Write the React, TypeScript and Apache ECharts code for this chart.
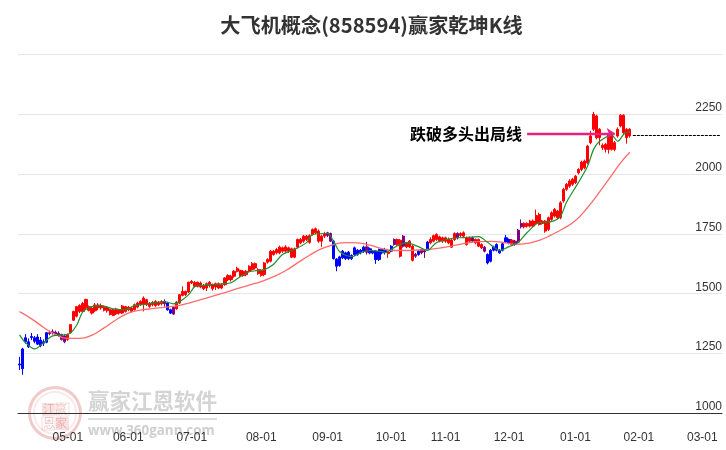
import React, { useEffect, useRef } from 'react';
import * as echarts from 'echarts';

// one trading-day slot per category, grouped by month
const monthLabels = ['', '05-01', '06-01', '07-01', '08-01', '09-01', '10-01', '11-01', '12-01', '01-01', '02-01', '03-01'];
const monthLengths = [16, 20, 21, 23, 22, 21, 18, 21, 22, 21, 21, 7];
const yTicks = [1000, 1250, 1500, 1750, 2000, 2250];

// open, close, low, high
const candles = [
  [1205, 1201, 1180, 1235], [1268, 1185, 1160, 1273], [1315, 1298, 1290, 1330], [1298, 1277, 1272, 1312],
  [1320, 1316, 1305, 1335], [1315, 1300, 1292, 1322], [1318, 1288, 1285, 1330], [1305, 1282, 1275, 1318],
  [1298, 1292, 1280, 1308], [1336, 1296, 1292, 1338], [1336, 1332, 1325, 1345], [1340, 1335, 1328, 1350],
  [1338, 1330, 1322, 1345], [1334, 1326, 1318, 1342], [1328, 1308, 1303, 1332], [1322, 1298, 1292, 1330],
  [1308, 1328, 1302, 1332], [1336, 1370, 1333, 1372], [1388, 1425, 1385, 1428], [1405, 1445, 1400, 1448],
  [1425, 1450, 1418, 1455], [1425, 1458, 1420, 1465], [1440, 1475, 1435, 1478], [1430, 1445, 1425, 1450],
  [1418, 1438, 1412, 1445], [1428, 1452, 1422, 1460], [1440, 1452, 1430, 1460], [1440, 1450, 1432, 1458],
  [1430, 1442, 1425, 1450], [1428, 1442, 1420, 1448], [1412, 1432, 1408, 1436], [1408, 1432, 1405, 1436],
  [1415, 1435, 1410, 1440], [1418, 1432, 1412, 1436], [1418, 1448, 1414, 1452], [1425, 1445, 1420, 1448],
  [1432, 1443, 1426, 1448], [1425, 1439, 1420, 1444], [1432, 1453, 1428, 1458], [1443, 1460, 1438, 1466],
  [1453, 1467, 1448, 1472], [1453, 1481, 1425, 1488], [1453, 1474, 1448, 1478], [1446, 1460, 1440, 1464],
  [1453, 1463, 1446, 1468], [1450, 1467, 1444, 1472], [1453, 1463, 1448, 1468], [1457, 1467, 1450, 1472],
  [1457, 1467, 1445, 1476], [1460, 1432, 1428, 1464], [1432, 1418, 1414, 1436], [1442, 1414, 1410, 1446],
  [1436, 1464, 1432, 1468], [1460, 1495, 1456, 1498], [1492, 1509, 1488, 1530], [1495, 1509, 1490, 1512],
  [1506, 1547, 1502, 1550], [1544, 1551, 1540, 1556], [1530, 1547, 1525, 1552], [1530, 1547, 1525, 1550],
  [1527, 1544, 1522, 1550], [1520, 1534, 1514, 1540], [1523, 1541, 1510, 1546], [1533, 1547, 1525, 1552],
  [1520, 1537, 1512, 1542], [1527, 1541, 1515, 1546], [1523, 1541, 1518, 1546], [1523, 1537, 1518, 1544],
  [1537, 1565, 1532, 1568], [1558, 1575, 1552, 1580], [1558, 1572, 1550, 1578], [1572, 1593, 1566, 1598],
  [1593, 1605, 1588, 1612], [1575, 1597, 1570, 1600], [1575, 1593, 1570, 1598], [1579, 1593, 1572, 1598],
  [1593, 1614, 1588, 1618], [1600, 1625, 1595, 1632], [1607, 1625, 1600, 1630], [1583, 1600, 1578, 1606],
  [1576, 1596, 1570, 1602], [1579, 1628, 1572, 1632], [1631, 1642, 1625, 1648], [1635, 1677, 1630, 1682],
  [1663, 1677, 1658, 1682], [1670, 1684, 1664, 1690], [1670, 1694, 1664, 1700], [1677, 1691, 1670, 1696],
  [1677, 1695, 1670, 1702], [1677, 1691, 1670, 1696], [1652, 1687, 1648, 1692], [1652, 1687, 1648, 1692],
  [1694, 1726, 1688, 1730], [1712, 1726, 1706, 1732], [1719, 1740, 1712, 1745], [1726, 1740, 1720, 1745],
  [1714, 1742, 1708, 1748], [1747, 1768, 1742, 1772], [1754, 1771, 1748, 1776], [1719, 1761, 1712, 1768],
  [1719, 1740, 1695, 1745], [1740, 1751, 1732, 1758], [1743, 1754, 1736, 1758], [1751, 1719, 1715, 1755],
  [1719, 1646, 1642, 1724], [1644, 1614, 1593, 1648], [1653, 1617, 1612, 1658], [1677, 1649, 1644, 1682],
  [1670, 1646, 1640, 1675], [1673, 1646, 1640, 1678], [1659, 1646, 1640, 1664], [1691, 1663, 1658, 1696],
  [1681, 1663, 1658, 1686], [1681, 1670, 1664, 1686], [1694, 1677, 1670, 1700], [1695, 1673, 1663, 1716],
  [1687, 1670, 1664, 1692], [1677, 1670, 1664, 1682], [1677, 1642, 1624, 1682], [1684, 1642, 1636, 1688],
  [1684, 1670, 1664, 1688], [1672, 1680, 1663, 1691], [1673, 1667, 1649, 1680], [1677, 1698, 1672, 1702],
  [1705, 1726, 1700, 1730], [1705, 1726, 1700, 1730], [1723, 1656, 1650, 1728], [1698, 1740, 1692, 1745],
  [1695, 1712, 1690, 1716], [1695, 1719, 1690, 1724], [1698, 1639, 1634, 1702], [1663, 1656, 1649, 1670],
  [1663, 1677, 1658, 1682], [1670, 1684, 1664, 1688], [1681, 1674, 1649, 1684], [1687, 1715, 1682, 1720],
  [1712, 1726, 1706, 1735], [1719, 1742, 1714, 1746], [1726, 1747, 1720, 1752], [1719, 1737, 1714, 1742],
  [1719, 1733, 1712, 1738], [1719, 1733, 1712, 1738], [1712, 1728, 1706, 1734], [1724, 1694, 1690, 1728],
  [1726, 1751, 1720, 1756], [1733, 1751, 1726, 1756], [1743, 1751, 1736, 1756], [1740, 1754, 1732, 1760],
  [1733, 1705, 1700, 1738], [1719, 1733, 1714, 1738], [1719, 1733, 1714, 1738], [1712, 1726, 1706, 1730],
  [1726, 1698, 1694, 1730], [1705, 1691, 1686, 1710], [1694, 1677, 1672, 1698], [1663, 1628, 1622, 1668],
  [1681, 1635, 1630, 1686], [1695, 1681, 1676, 1700], [1705, 1681, 1676, 1710], [1681, 1670, 1666, 1686],
  [1708, 1681, 1676, 1712], [1716, 1733, 1712, 1745], [1726, 1712, 1706, 1730], [1723, 1705, 1700, 1728],
  [1719, 1705, 1700, 1724], [1715, 1765, 1710, 1770], [1779, 1793, 1772, 1810], [1779, 1793, 1772, 1798],
  [1782, 1793, 1776, 1798], [1782, 1803, 1776, 1808], [1782, 1803, 1776, 1810], [1793, 1826, 1788, 1851],
  [1789, 1831, 1784, 1838], [1793, 1803, 1788, 1808], [1761, 1803, 1754, 1808], [1768, 1817, 1762, 1822],
  [1810, 1838, 1804, 1844], [1824, 1852, 1818, 1858], [1817, 1845, 1810, 1850], [1817, 1880, 1810, 1886],
  [1887, 1936, 1880, 1942], [1936, 1957, 1930, 1962], [1949, 1971, 1942, 1978], [1957, 1978, 1950, 1984],
  [1964, 1991, 1958, 1996], [2005, 2019, 1998, 2024], [2019, 2050, 2012, 2056], [2026, 2054, 2020, 2060],
  [2047, 2117, 2040, 2122], [2131, 2159, 2125, 2180], [2187, 2250, 2180, 2260], [2152, 2243, 2145, 2248],
  [2152, 2187, 2120, 2192], [2110, 2120, 2100, 2128], [2103, 2124, 2090, 2130], [2103, 2166, 2085, 2172],
  [2103, 2166, 2098, 2172], [2103, 2131, 2095, 2138], [2159, 2187, 2152, 2195], [2201, 2246, 2195, 2250],
  [2173, 2246, 2166, 2250], [2152, 2187, 2127, 2192], [2159, 2187, 2152, 2192],
];
// r: long trend, b: short trend, p: turning
const trendColors =
  'bbbbbbbbbbpppppp' +
  'rrrrrrrrrrrrrrrrrrrrrrrrrrrrrrrr' +
  'pbbp' +
  'rrrrrrrrrrrrrrrrrrrrrrrrrrrrrrrrrrrrrrrrrrrrrrrrrr' +
  'pp' +
  'bbbbbbbbbbbpbbbbbbrbp' +
  'rrprrrpbppb' +
  'rrrrrrrrrp' +
  'rrrrprrrpbbbbbbbbr' +
  'pppr' +
  'rrrrrrrrrrrrrrrrrrrrrrrrrrrrrrrrrrrrr';

// [day, value]
const fastLine = [
  [0, 1327], [2, 1294], [5, 1268], [8, 1294], [11, 1323], [15, 1327], [17, 1336], [19, 1369], [21, 1424], [24, 1445],
  [27, 1449], [31, 1436], [35, 1432], [38, 1449], [43, 1457], [48, 1466], [51, 1457], [53, 1466], [56, 1495], [58, 1529],
  [60, 1533], [63, 1537], [68, 1541], [70, 1545], [73, 1570], [76, 1591], [81, 1600], [84, 1621], [87, 1663], [91, 1684],
  [95, 1713], [97, 1747], [102, 1751], [104, 1717], [106, 1675], [110, 1654], [113, 1671], [116, 1680], [120, 1675], [121, 1671],
  [124, 1692], [128, 1713], [132, 1696], [135, 1680], [138, 1713], [143, 1730], [147, 1734], [152, 1738], [155, 1713], [159, 1680],
  [162, 1696], [165, 1713], [168, 1755], [172, 1797], [176, 1801], [179, 1822], [181, 1881], [185, 1965], [188, 2032], [190, 2103],
  [192, 2137], [196, 2162], [198, 2137], [200, 2166], [202, 2179],
];
const slowLine = [
  [0, 1424], [4, 1394], [8, 1358], [12, 1328], [16, 1312], [20, 1312], [24, 1326], [28, 1356], [32, 1390], [36, 1418],
  [40, 1430], [44, 1437], [48, 1442], [52, 1448], [56, 1460], [60, 1474], [64, 1489], [68, 1504], [72, 1520], [76, 1535],
  [80, 1550], [84, 1570], [88, 1595], [92, 1628], [96, 1660], [100, 1688], [104, 1705], [108, 1713], [112, 1712], [116, 1702],
  [120, 1688], [124, 1680], [128, 1680], [132, 1682], [136, 1685], [140, 1692], [144, 1701], [148, 1711], [152, 1717], [156, 1718],
  [160, 1714], [164, 1706], [168, 1710], [172, 1722], [176, 1745], [180, 1772], [184, 1805], [188, 1860], [192, 1925], [196, 1995],
  [199, 2048], [202, 2091],
];

const exitLevel = 2162;
const exitLabelLevel = 2170;

const categories: string[] = [];
monthLengths.forEach((len, m) => {
  for (let d = 0; d < len; d++) categories.push(d === 0 ? monthLabels[m] : `${m}-${d}`);
});
const isMonthStart = (_: number, name: string) => monthLabels.includes(name) && name !== '';

const palette: Record<string, string> = { r: '#ff0000', b: '#0000ff', p: '#800080' };

const wmRed = 'rgba(205,70,70,';

const App = () => {
  const chartRef = useRef<HTMLDivElement>(null);

  useEffect(() => {
    if (!chartRef.current) return;
    const chart = echarts.init(chartRef.current, undefined, { renderer: 'svg' });

    const option = {
      animation: false,
      title: {
        text: '大飞机概念(858594)赢家乾坤K线',
        left: 366.5,
        top: 9,
        textAlign: 'center',
        textStyle: { fontFamily: '"Noto Sans CJK SC"', fontSize: 20.2, fontWeight: 'bold', color: '#333' },
      },
      grid: { left: 18, right: 4, top: 54.5, bottom: 37 },
      xAxis: {
        type: 'category',
        data: categories,
        boundaryGap: true,
        axisLine: { lineStyle: { color: '#333', width: 1 } },
        axisTick: { length: 9, interval: isMonthStart, alignWithLabel: true, lineStyle: { color: '#333' } },
        axisLabel: {
          interval: isMonthStart,
          margin: 18,
          fontSize: 12,
          color: '#333',
          fontFamily: '"Liberation Sans"',
          hideOverlap: false,
        },
        splitLine: { show: false },
      },
      yAxis: {
        type: 'value',
        position: 'right',
        min: 1000,
        max: 2500,
        interval: 250,
        axisLine: { show: false },
        axisTick: { show: false },
        axisLabel: {
          inside: true,
          verticalAlign: 'bottom',
          margin: 0,
          lineHeight: 14,
          fontSize: 12,
          color: '#333',
          fontFamily: '"Liberation Sans"',
          formatter: (v: number) => (yTicks.includes(v) ? String(v) : ''),
        },
        splitLine: { lineStyle: { color: '#e6e6e6', width: 1.2 } },
      },
      graphic: [
        {
          type: 'group',
          silent: true,
          z: -1,
          children: [
            { type: 'circle', shape: { cx: 55, cy: 413, r: 25.5 }, style: { fill: 'none', stroke: wmRed + '0.28)', lineWidth: 3 } },
            { type: 'circle', shape: { cx: 55, cy: 413, r: 21 }, style: { fill: 'none', stroke: wmRed + '0.12)', lineWidth: 2 } },
            { type: 'rect', shape: { x: 42, y: 403, width: 13, height: 13 }, style: { fill: wmRed + '0.16)' } },
            { type: 'rect', shape: { x: 56, y: 403, width: 13, height: 13 }, style: { fill: 'none', stroke: wmRed + '0.2)', lineWidth: 1 } },
            { type: 'rect', shape: { x: 42, y: 417, width: 13, height: 13 }, style: { fill: 'none', stroke: wmRed + '0.2)', lineWidth: 1 } },
            { type: 'rect', shape: { x: 56, y: 417, width: 13, height: 13 }, style: { fill: wmRed + '0.16)' } },
            { type: 'text', x: 43, y: 402, style: { text: '江赢', font: '12px "Noto Sans CJK SC"', fill: wmRed + '0.3)' } },
            { type: 'text', x: 43, y: 416, style: { text: '恩家', font: '12px "Noto Sans CJK SC"', fill: wmRed + '0.3)' } },
            { type: 'text', x: 88, y: 389, style: { text: '赢家江恩软件', font: 'bold 21.5px "Noto Sans CJK SC"', fill: '#d4d4d4' } },
            { type: 'rect', shape: { x: 88, y: 418, width: 129, height: 2 }, style: { fill: '#dedede' } },
            { type: 'text', x: 88, y: 423, style: { text: 'www.360gann.com', font: 'bold 13.4px "Open Sans"', fill: '#cfcfcf' } },
          ],
        },
      ],
      series: [
        {
          type: 'candlestick',
          barWidth: 2.6,
          data: candles.map((c, i) => {
            const col = palette[trendColors[i]] || palette.r;
            return {
              value: c,
              itemStyle: { color: col, color0: col, borderColor: col, borderColor0: col, borderWidth: 1 },
            };
          }),
          markLine: {
            silent: true,
            symbol: 'none',
            animation: false,
            data: [
              [
                {
                  coord: [168, exitLabelLevel],
                  lineStyle: { color: '#e8207f', width: 2.4, type: 'solid' },
                  symbol: 'none',
                  label: {
                    show: true,
                    position: 'start',
                    formatter: '跌破多头出局线',
                    color: '#000',
                    fontSize: 16,
                    fontWeight: 'bold',
                    fontFamily: '"Noto Sans CJK SC"',
                    distance: 5,
                  },
                },
                { coord: [197, exitLabelLevel], symbol: 'arrow', symbolSize: 8 },
              ],
              [
                {
                  coord: [203, exitLevel],
                  lineStyle: { color: '#000', width: 1, type: [3, 1] },
                  label: { show: false },
                },
                { coord: [232, exitLevel] },
              ],
            ],
          },
        },
        {
          type: 'line',
          data: slowLine,
          smooth: 0.5,
          symbol: 'none',
          lineStyle: { color: '#ff6b6b', width: 1.3 },
          z: 3,
        },
        {
          type: 'line',
          data: fastLine,
          smooth: 0.3,
          symbol: 'none',
          lineStyle: { color: '#1f8f30', width: 1.2 },
          z: 4,
        },
      ],
    };

    chart.setOption(option as any);
    return () => chart.dispose();
  }, []);

  return <div ref={chartRef} style={{ width: 726, height: 450, position: 'fixed', left: 0, top: 0 }} />;
};

export default App;
